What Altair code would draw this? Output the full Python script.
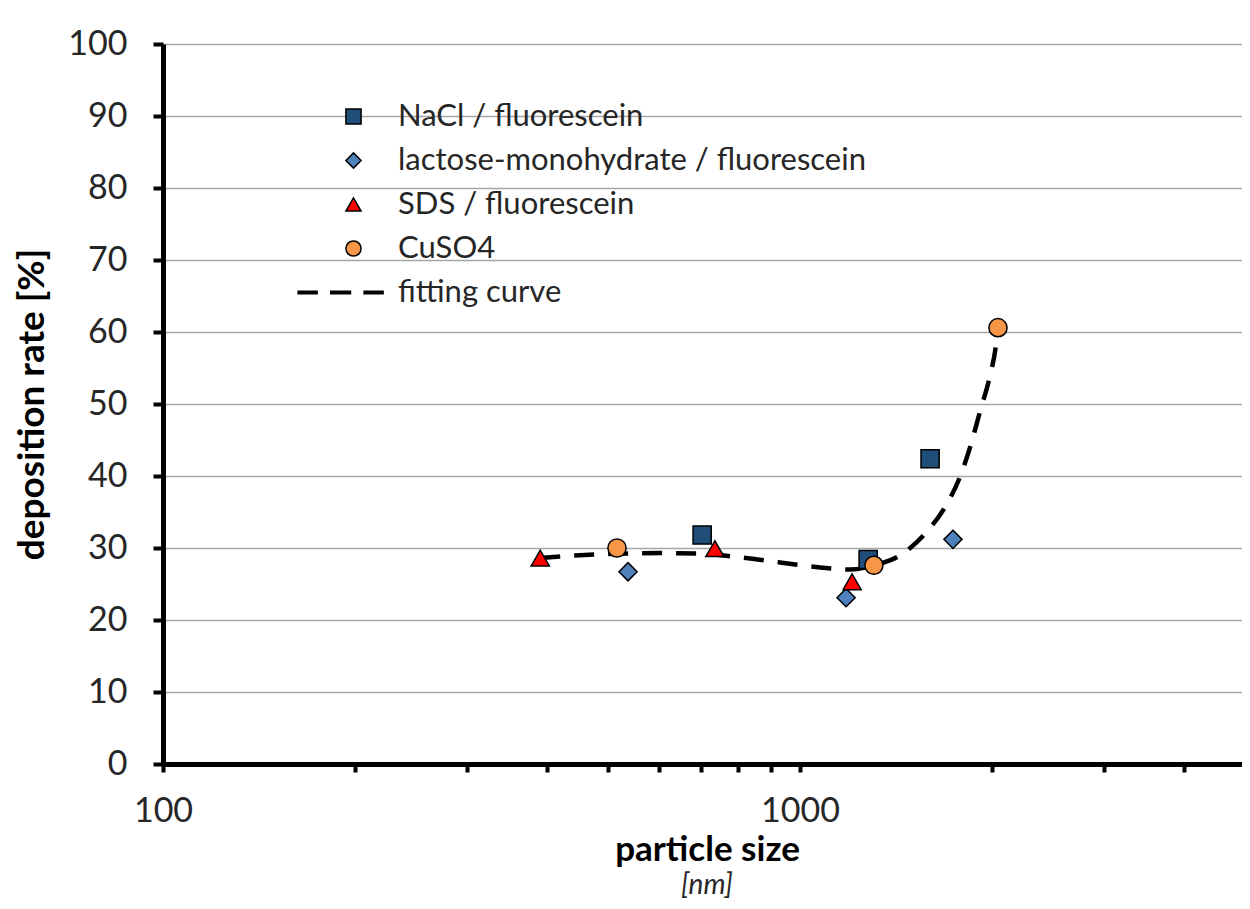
import altair as alt
import pandas as pd

# ---- data ----
series_names = ["NaCl / fluorescein", "lactose-monohydrate / fluorescein",
                "SDS / fluorescein", "CuSO4", "fitting curve"]
series_fill = ["#1F4E79", "#4F81BD", "#FF0000", "#F79646", "black"]

nacl_x = [702, 1279, 1600]
nacl_y = [31.8, 28.4, 42.4]
lactose_x = [537, 1181, 1738]
lactose_y = [26.7, 23.1, 31.2]
sds_x = [391, 735, 1207]
sds_y = [28.6, 29.9, 25.3]
cuso4_x = [516, 1306, 2045]
cuso4_y = [30.0, 27.6, 60.6]

fit_x = [391, 451, 516, 603, 697, 805, 930, 1075, 1198, 1307, 1436, 1571,
         1689, 1783, 1849, 1917, 1988, 2025, 2045]
fit_y = [28.6, 29.0, 29.2, 29.3, 29.2, 28.7, 28.0, 27.3, 27.0, 27.6, 29.0, 32.0,
         35.7, 39.9, 44.0, 49.0, 54.0, 57.5, 60.6]

x_tick_values = [100, 200, 300, 400, 500, 600, 700, 800, 900,
                 1000, 2000, 3000, 4000]
y_tick_values = [0, 10, 20, 30, 40, 50, 60, 70, 80, 90, 100]

rows = []
for name, xs, ys in zip(series_names[:4], [nacl_x, lactose_x, sds_x, cuso4_x],
                        [nacl_y, lactose_y, sds_y, cuso4_y]):
    for x, y in zip(xs, ys):
        rows.append({"series": name, "size": x, "rate": y})
points = pd.DataFrame(rows)
fit = pd.DataFrame({"size": fit_x, "rate": fit_y})

# legend glyph for the dashed fitting curve (three short bars)
dash_path = ("M-7.3,-0.18H-4.8V0.18H-7.3Z M-3.0,-0.18H-0.4V0.18H-3.0Z "
             "M1.4,-0.18H3.9V0.18H1.4Z")
series_shapes = ["square", "diamond", "triangle-up", "circle", dash_path]

FONT = "Lato"
x_scale = alt.Scale(type="log", domain=[100, 4940], nice=False)
y_scale = alt.Scale(domain=[0, 100], nice=False)

x_axis = alt.Axis(
    values=x_tick_values,
    labelExpr="(datum.value == 100 || datum.value == 1000) ? datum.value + '' : ''",
    title="particle size", titleFontWeight="bold", titleFontSize=35,
    titleX=544, titleY=96, titleAlign="center", titleBaseline="alphabetic",
    grid=False, tickSize=8, labelPadding=22, labelFlush=False, labelOverlap=False,
)
y_axis = alt.Axis(
    values=y_tick_values, grid=True, tickSize=10, labelPadding=26,
    title="deposition rate [%]", titleFontWeight="bold", titleFontSize=37,
    titleX=-131, titleY=360, titleAngle=270, titleAlign="center",
    titleBaseline="middle",
)

legend = alt.Legend(
    orient="none", legendX=175, legendY=57, title=None,
    labelFont=FONT, labelFontSize=31, labelColor="#262626", labelLimit=900,
    symbolSize=230, symbolStrokeColor="black", symbolStrokeWidth=1.5,
    rowPadding=12, labelOffset=29, padding=0,
)

line = alt.Chart(fit).mark_line(
    color="black", strokeWidth=4.5, strokeDash=[20, 14], interpolate="monotone"
).encode(
    x=alt.X("size:Q", scale=x_scale, axis=x_axis),
    y=alt.Y("rate:Q", scale=y_scale, axis=y_axis),
)

pts = alt.Chart(points).mark_point(
    filled=True, size=330, strokeWidth=1.5, opacity=1
).encode(
    x=alt.X("size:Q", scale=x_scale),
    y=alt.Y("rate:Q", scale=y_scale),
    fill=alt.Fill("series:N", scale=alt.Scale(domain=series_names, range=series_fill),
                  legend=legend),
    shape=alt.Shape("series:N", scale=alt.Scale(domain=series_names, range=series_shapes),
                    legend=legend),
    stroke=alt.Stroke("series:N", scale=alt.Scale(domain=series_names,
                                                  range=["black"] * 5),
                      legend=legend),
)

unit = alt.Chart(pd.DataFrame({"t": ["[nm]"]})).mark_text(
    font=FONT, fontSize=28, fontStyle="italic", align="center",
    baseline="alphabetic", color="#262626"
).encode(text="t:N", x=alt.value(544), y=alt.value(850))

chart = alt.layer(line, pts, unit).properties(
    width=1079, height=720,
    autosize=alt.AutoSizeParams(type="none"),
    padding={"left": 155, "top": 36, "right": 0, "bottom": 136},
).configure(font=FONT).configure_view(stroke=None).configure_axis(
    domainColor="black", domainWidth=5, tickColor="black", tickWidth=4,
    gridColor="#a6a6a6", gridWidth=1.5, labelFont=FONT, labelFontSize=34,
    labelColor="#262626", titleFont=FONT, titleColor="#000000",
)

chart.save("out.html", embed_options={"renderer": "svg", "actions": False})
